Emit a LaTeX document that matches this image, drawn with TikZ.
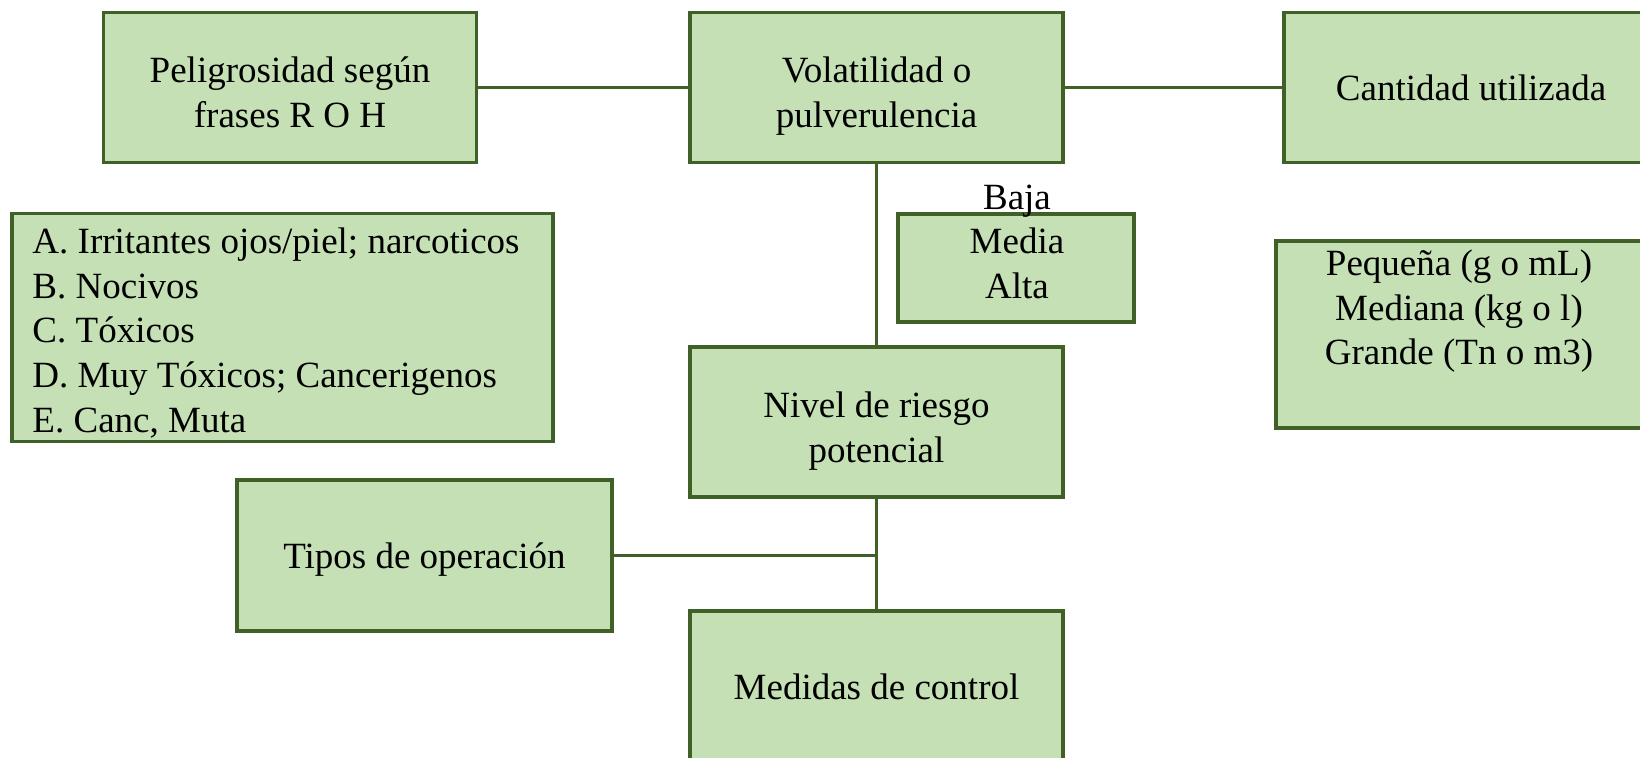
\documentclass[tikz,border=0pt]{standalone}
\usepackage{fontspec}
\setmainfont{Liberation Serif}
\definecolor{cajafondo}{HTML}{C5E0B4}
\definecolor{cajaborde}{HTML}{3F6027}
\newcommand{\renglon}{\rule[-4.5pt]{0pt}{22pt}}
\newcommand{\renglonalto}{\rule[-4.5pt]{0pt}{26.75pt}}

\begin{document}
\begin{tikzpicture}[x=0.5pt, y=-0.5pt,
		letra/.style={font=\fontsize{18.5}{22.3}\selectfont\frenchspacing, execute at begin node=\renglon},
		caja/.style={letra, draw=cajaborde, fill=cajafondo, line width=1.6pt, inner sep=0pt, align=center},
		texto/.style={letra, inner sep=0pt, align=center},
		enlace/.style={draw=cajaborde, line width=1.3pt}]
		\useasboundingbox (0, 0) rectangle (1640, 758);
		\clip (0, 0) rectangle (1640, 758);
		\node[caja, minimum width=186.5pt, minimum height=75pt] (peligrosidad) at (290, 87.5) {\renglonalto Peligrosidad según\\frases R O H\renglon};
		\node[caja, minimum width=186.5pt, minimum height=75pt] (volatilidad) at (876.5, 87.5) {\renglonalto Volatilidad o\\pulverulencia\renglon};
		\node[caja, minimum width=187pt, minimum height=75pt] (cantidad) at (1471, 87.5) {Cantidad utilizada};
		\node[caja, align=flush left, text width=250pt, inner xsep=10.25pt, minimum height=112.5pt] (clases) at (282.5, 327.5)
		{\rule[-4.5pt]{0pt}{24.5pt}A. Irritantes ojos/piel; narcoticos\\B. Nocivos\\C. Tóxicos\\D. Muy Tóxicos; Cancerigenos\\E. Canc, Muta\renglon};
		\node[caja, minimum width=118pt, minimum height=54pt] (rangos) at (1016, 268) {};
		\node[texto] (rangostxt) at (1017, 246) {Baja\\Media\\Alta\renglon};
		\node[caja, minimum width=192pt, minimum height=93.5pt] (opciones) at (1468, 334.5) {};
		\node[texto] (opcionestxt) at (1459, 311.7) {Pequeña (g o mL)\\Mediana (kg o l)\\Grande (Tn o m3)\renglon};
		\node[caja, minimum width=186.5pt, minimum height=75pt] (nivel) at (876.5, 422) {\renglonalto Nivel de riesgo\\potencial\renglon};
		\node[caja, minimum width=187.5pt, minimum height=75.5pt] (tipos) at (424.5, 555.5) {Tipos de operación};
		\node[caja, minimum width=186.5pt, minimum height=75.5pt] (medidas) at (876.5, 686.5) {Medidas de control};
		\draw[enlace] (peligrosidad.east) -- (volatilidad.west);
		\draw[enlace] (volatilidad.east) -- (cantidad.west);
		\draw[enlace] (volatilidad.south) -- (nivel.north);
		\draw[enlace] (nivel.south) -- (medidas.north);
		\draw[enlace] (tipos.east) -- (tipos.east -| nivel.south);
	\end{tikzpicture}
\end{document}
